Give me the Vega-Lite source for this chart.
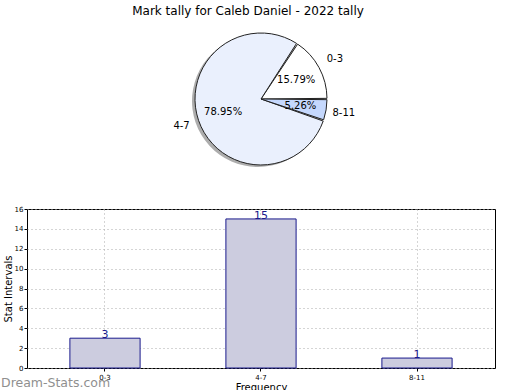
{
  "$schema": "https://vega.github.io/schema/vega-lite/v6.json",
  "padding": {"left": 0, "right": 0, "top": 5, "bottom": 0},
  "bounds": "flush",
  "spacing": 35,
  "config": {"font": "DejaVu Sans", "view": {"stroke": null}},
  "title": {"text": "Mark tally for Caleb Daniel - 2022 tally", "fontSize": 12, "fontWeight": "normal", "color": "#000000", "anchor": "middle", "offset": 6},
  "datasets": {
    "tally": [
      {"range": "0-3", "count": 3, "pct": "15.79%", "o": 1},
      {"range": "4-7", "count": 15, "pct": "78.95%", "o": 2},
      {"range": "8-11", "count": 1, "pct": "5.26%", "o": 3}
    ]
  },
  "vconcat": [
    {
      "width": 468,
      "height": 150,
      "data": {"name": "tally"},
      "encoding": {
        "theta": {"field": "count", "type": "quantitative", "stack": true, "scale": {"range": [1.5708, -4.7124]}},
        "order": {"field": "o", "type": "quantitative"}
      },
      "layer": [
        {
          "mark": {"type": "arc", "outerRadius": 66, "fill": "#777777", "opacity": 0.6, "xOffset": -3, "yOffset": 2, "strokeWidth": 0}
        },
        {
          "mark": {"type": "arc", "outerRadius": 66, "stroke": "#222222", "strokeWidth": 1, "padAngle": 0.02},
          "encoding": {
            "color": {"field": "range", "type": "nominal", "legend": null, "scale": {"domain": ["0-3", "4-7", "8-11"], "range": ["#ffffff", "#eaf0fd", "#c5d8fd"]}}
          }
        },
        {
          "mark": {"type": "text", "radius": 40, "fontSize": 10, "color": "#000000"},
          "encoding": {"text": {"field": "pct"}}
        },
        {
          "mark": {"type": "text", "radius": 84, "fontSize": 10, "color": "#000000"},
          "encoding": {"text": {"field": "range"}}
        }
      ]
    },
    {
      "width": 468,
      "height": 159,
      "data": {"name": "tally"},
      "view": {"stroke": "#000000", "strokeWidth": 1},
      "title": {"text": "Dream-Stats.com", "orient": "bottom", "anchor": "start", "frame": "group", "dx": -26, "offset": -15, "fontSize": 12.5, "fontWeight": "normal", "color": "#8f8f8f"},
      "encoding": {
        "x": {"field": "range", "type": "nominal", "sort": null,
          "scale": {"paddingInner": 0.55, "paddingOuter": 0.275},
          "axis": {"title": "Frequency", "titleFontSize": 10, "titleFontWeight": "normal", "titleColor": "#000000", "titlePadding": 2, "labelAngle": 0, "labelFontSize": 7, "labelColor": "#000000", "bandPosition": 0.5, "grid": true, "gridDash": [1, 3], "gridColor": "#aaaaaa", "tickSize": 3, "tickColor": "#000000", "domain": false, "labelPadding": 2}},
        "y": {"field": "count", "type": "quantitative", "scale": {"domain": [0, 16]},
          "axis": {"title": "Stat Intervals", "titleFontSize": 10, "titleFontWeight": "normal", "titleColor": "#000000", "titlePadding": 1, "values": [0, 2, 4, 6, 8, 10, 12, 14, 16], "labelFontSize": 7, "labelColor": "#000000", "grid": true, "gridDash": [1, 3], "gridColor": "#aaaaaa", "tickSize": 3, "tickColor": "#000000", "domain": false, "labelPadding": 1}}
      },
      "layer": [
        {"mark": {"type": "bar", "fill": "#ccccdf", "stroke": "#1a1a8c", "strokeWidth": 1}},
        {"mark": {"type": "text", "baseline": "bottom", "dy": 2, "fontSize": 11, "color": "#1a1a8c"},
          "encoding": {"text": {"field": "count", "type": "quantitative"}}}
      ]
    }
  ]
}
